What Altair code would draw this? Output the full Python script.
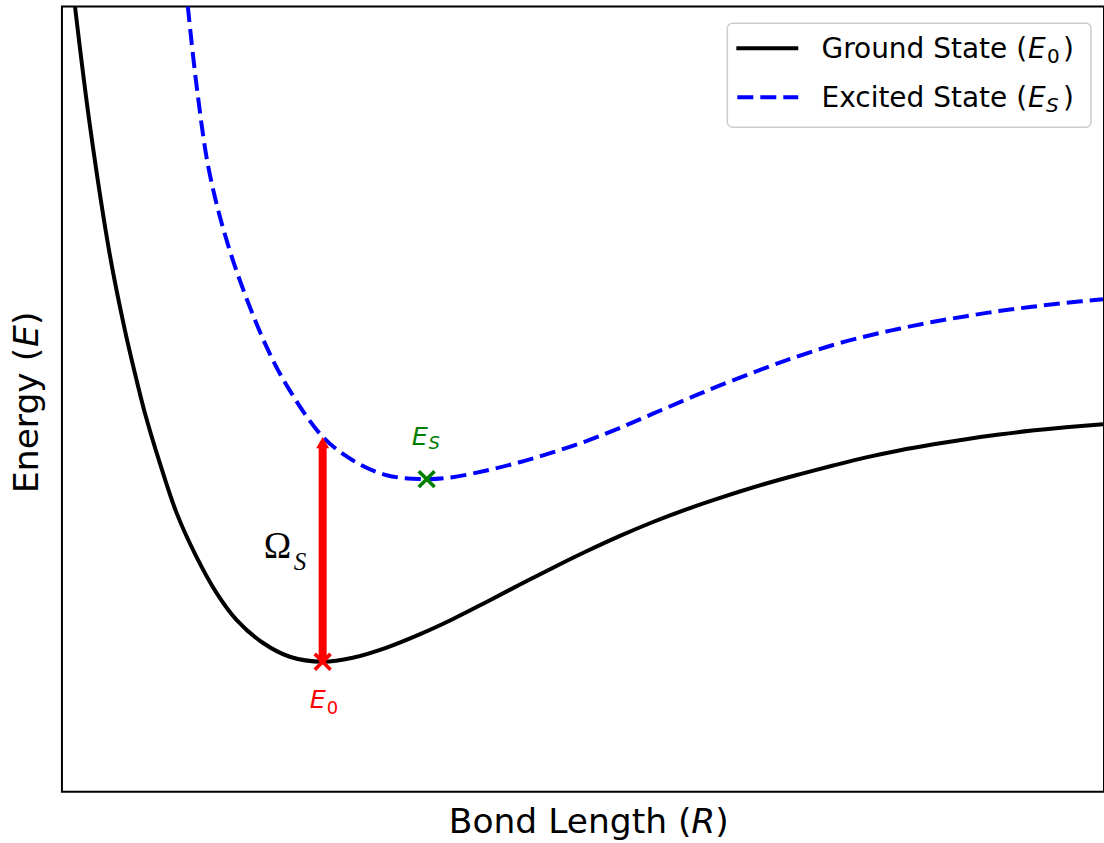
import altair as alt
import pandas as pd

# ---------------- data ----------------
# Ground state potential curve (bond length R, energy E), arbitrary units
ground_R = [0.125, 0.268, 0.460, 0.604, 0.716, 0.796, 0.939, 1.100, 1.291, 1.483,
            1.675, 1.927, 2.186, 2.502, 2.790, 3.116, 3.432, 3.749, 4.075, 4.391,
            4.708, 5.034, 5.350, 5.666, 5.992, 6.309, 6.759, 7.076, 7.392, 7.718,
            8.035, 8.351, 8.677, 8.993, 9.310, 9.636, 9.990]
ground_E = [10.00, 8.486, 6.832, 5.878, 5.242, 4.822, 4.186, 3.550, 2.990, 2.532,
            2.188, 1.896, 1.718, 1.654, 1.705, 1.835, 2.003, 2.196, 2.416, 2.635,
            2.849, 3.061, 3.254, 3.431, 3.595, 3.738, 3.924, 4.041, 4.150, 4.257,
            4.345, 4.420, 4.489, 4.547, 4.598, 4.641, 4.679]

# Excited state potential curve
excited_R = [1.208, 1.294, 1.419, 1.640, 1.965, 2.186, 2.502, 2.790, 3.116, 3.500,
             3.749, 4.075, 4.391, 4.708, 5.034, 5.350, 5.666, 5.992, 6.309, 6.759,
             7.076, 7.392, 7.718, 8.035, 8.351, 8.677, 8.993, 9.310, 9.636, 9.990]
excited_E = [10.00, 8.97, 7.86, 6.77, 5.66, 5.11, 4.52, 4.22, 4.03, 3.98,
             4.005, 4.09, 4.195, 4.32, 4.465, 4.63, 4.81, 4.995, 5.17, 5.40,
             5.55, 5.685, 5.80, 5.895, 5.98, 6.055, 6.12, 6.175, 6.225, 6.27]

# Minima and vertical excitation
min_labels = ["E0", "ES"]
min_R = [2.502, 3.500]
min_E = [1.654, 3.98]
min_colors = ["#ff0000", "#008000"]
arrow_R = [2.502]
arrow_E_start = [1.654]
arrow_E_end = [4.52]

# Texts
legend_labels = ["Ground State (", "Excited State ("]
x_title = ["Bond Length (", "R", ")"]
y_title = ["Energy (", "E", ")"]

# ---------------- chart ----------------
W, H = 1043, 786
xs = alt.Scale(domain=[0, 10], nice=False, zero=False)
ys = alt.Scale(domain=[0, 10], nice=False, zero=False)

gdf = pd.DataFrame({"R": ground_R, "E": ground_E})
edf = pd.DataFrame({"R": excited_R, "E": excited_E})
mdf = pd.DataFrame({"label": min_labels, "R": min_R, "E": min_E, "c": min_colors})
adf = pd.DataFrame({"R": arrow_R, "E": arrow_E_start, "E2": arrow_E_end})
dummy = pd.DataFrame({"a": [0]})

X = alt.X("R:Q", scale=xs, axis=None)
Y = alt.Y("E:Q", scale=ys, axis=None)

ground = alt.Chart(gdf).mark_line(color="black", strokeWidth=4,
                                  interpolate="catmull-rom", clip=True).encode(x=X, y=Y)
excited = alt.Chart(edf).mark_line(color="#0000ff", strokeWidth=4, strokeDash=[16, 7],
                                   interpolate="catmull-rom", clip=True).encode(x=X, y=Y)

shaft = alt.Chart(adf).mark_rule(color="#ff0000", strokeWidth=8, y2Offset=8).encode(
    x=X, y=Y, y2="E2:Q")
head = alt.Chart(adf).mark_point(shape="triangle-up", filled=True, color="#ff0000",
                                 size=170, opacity=1, yOffset=6).encode(
    x=X, y=alt.Y("E2:Q", scale=ys, axis=None))

markers = alt.Chart(mdf).mark_point(shape="M-1,-1L1,1M-1,1L1,-1", filled=False,
                                    strokeWidth=3.6, size=250, opacity=1).encode(
    x=X, y=Y, stroke=alt.Color("c:N", scale=None))


def txt(s, x, y, size, color="black", font="DejaVu Sans", style="normal",
        align="left", angle=0):
    kw = dict(text=s, fontSize=size, color=color, font=font, fontStyle=style,
              align=align, baseline="alphabetic")
    if angle:
        kw["angle"] = angle
    return alt.Chart(dummy).mark_text(**kw).encode(x=alt.value(x), y=alt.value(y))


texts = [
    # annotations
    txt("E", 350, 439, 25.5, "#008000", style="italic"),
    txt("S", 367, 443, 18, "#008000", style="italic"),
    txt("E", 248, 702, 25.5, "#ff0000", style="italic"),
    txt("0", 265, 708, 18, "#ff0000"),
    txt("\u03a9", 202, 552, 37, font="Liberation Serif"),
    txt("S", 232, 564, 25, font="Liberation Serif", style="italic"),
    # x title
    txt(x_title[0], 630, 827, 34.5, align="right"),
    txt(x_title[1], 630, 827, 34.5, style="italic"),
    txt(x_title[2], 654, 827, 34.5),
    # y title
    txt(y_title[0], -24, 487, 34.5, angle=270),
    txt(y_title[1], -24, 341, 34.5, style="italic", angle=270),
    txt(y_title[2], -24, 319, 34.5, angle=270),
]

# legend
legend_box = alt.Chart(dummy).mark_rect(fill="white", stroke="#cccccc", strokeWidth=1.5,
                                        cornerRadius=5).encode(
    x=alt.value(666), x2=alt.value(1030), y=alt.value(17), y2=alt.value(121))
leg_g = alt.Chart(dummy).mark_rule(color="black", strokeWidth=4).encode(
    x=alt.value(675), x2=alt.value(737), y=alt.value(42))
leg_e = alt.Chart(dummy).mark_rule(color="#0000ff", strokeWidth=4, strokeDash=[16, 7]).encode(
    x=alt.value(676), x2=alt.value(737), y=alt.value(91))
legend_texts = [
    txt(legend_labels[0], 966, 52, 28, align="right"),
    txt("E", 967, 52, 28, style="italic"),
    txt("0", 986, 57, 20),
    txt(")", 1002, 52, 28),
    txt(legend_labels[1], 966, 101, 28, align="right"),
    txt("E", 967, 101, 28, style="italic"),
    txt("S", 985, 106, 20, style="italic"),
    txt(")", 1002, 101, 28),
]

chart = alt.layer(ground, excited, shaft, head, markers, *texts,
                  legend_box, leg_g, leg_e, *legend_texts).properties(
    width=W, height=H,
    autosize=alt.AutoSizeParams(type="none"),
    padding={"left": 62, "top": 6, "right": 0, "bottom": 51},
    background="white",
).configure_view(stroke="black", strokeWidth=2)

chart.save("out.html", embed_options={"renderer": "svg", "actions": False})
